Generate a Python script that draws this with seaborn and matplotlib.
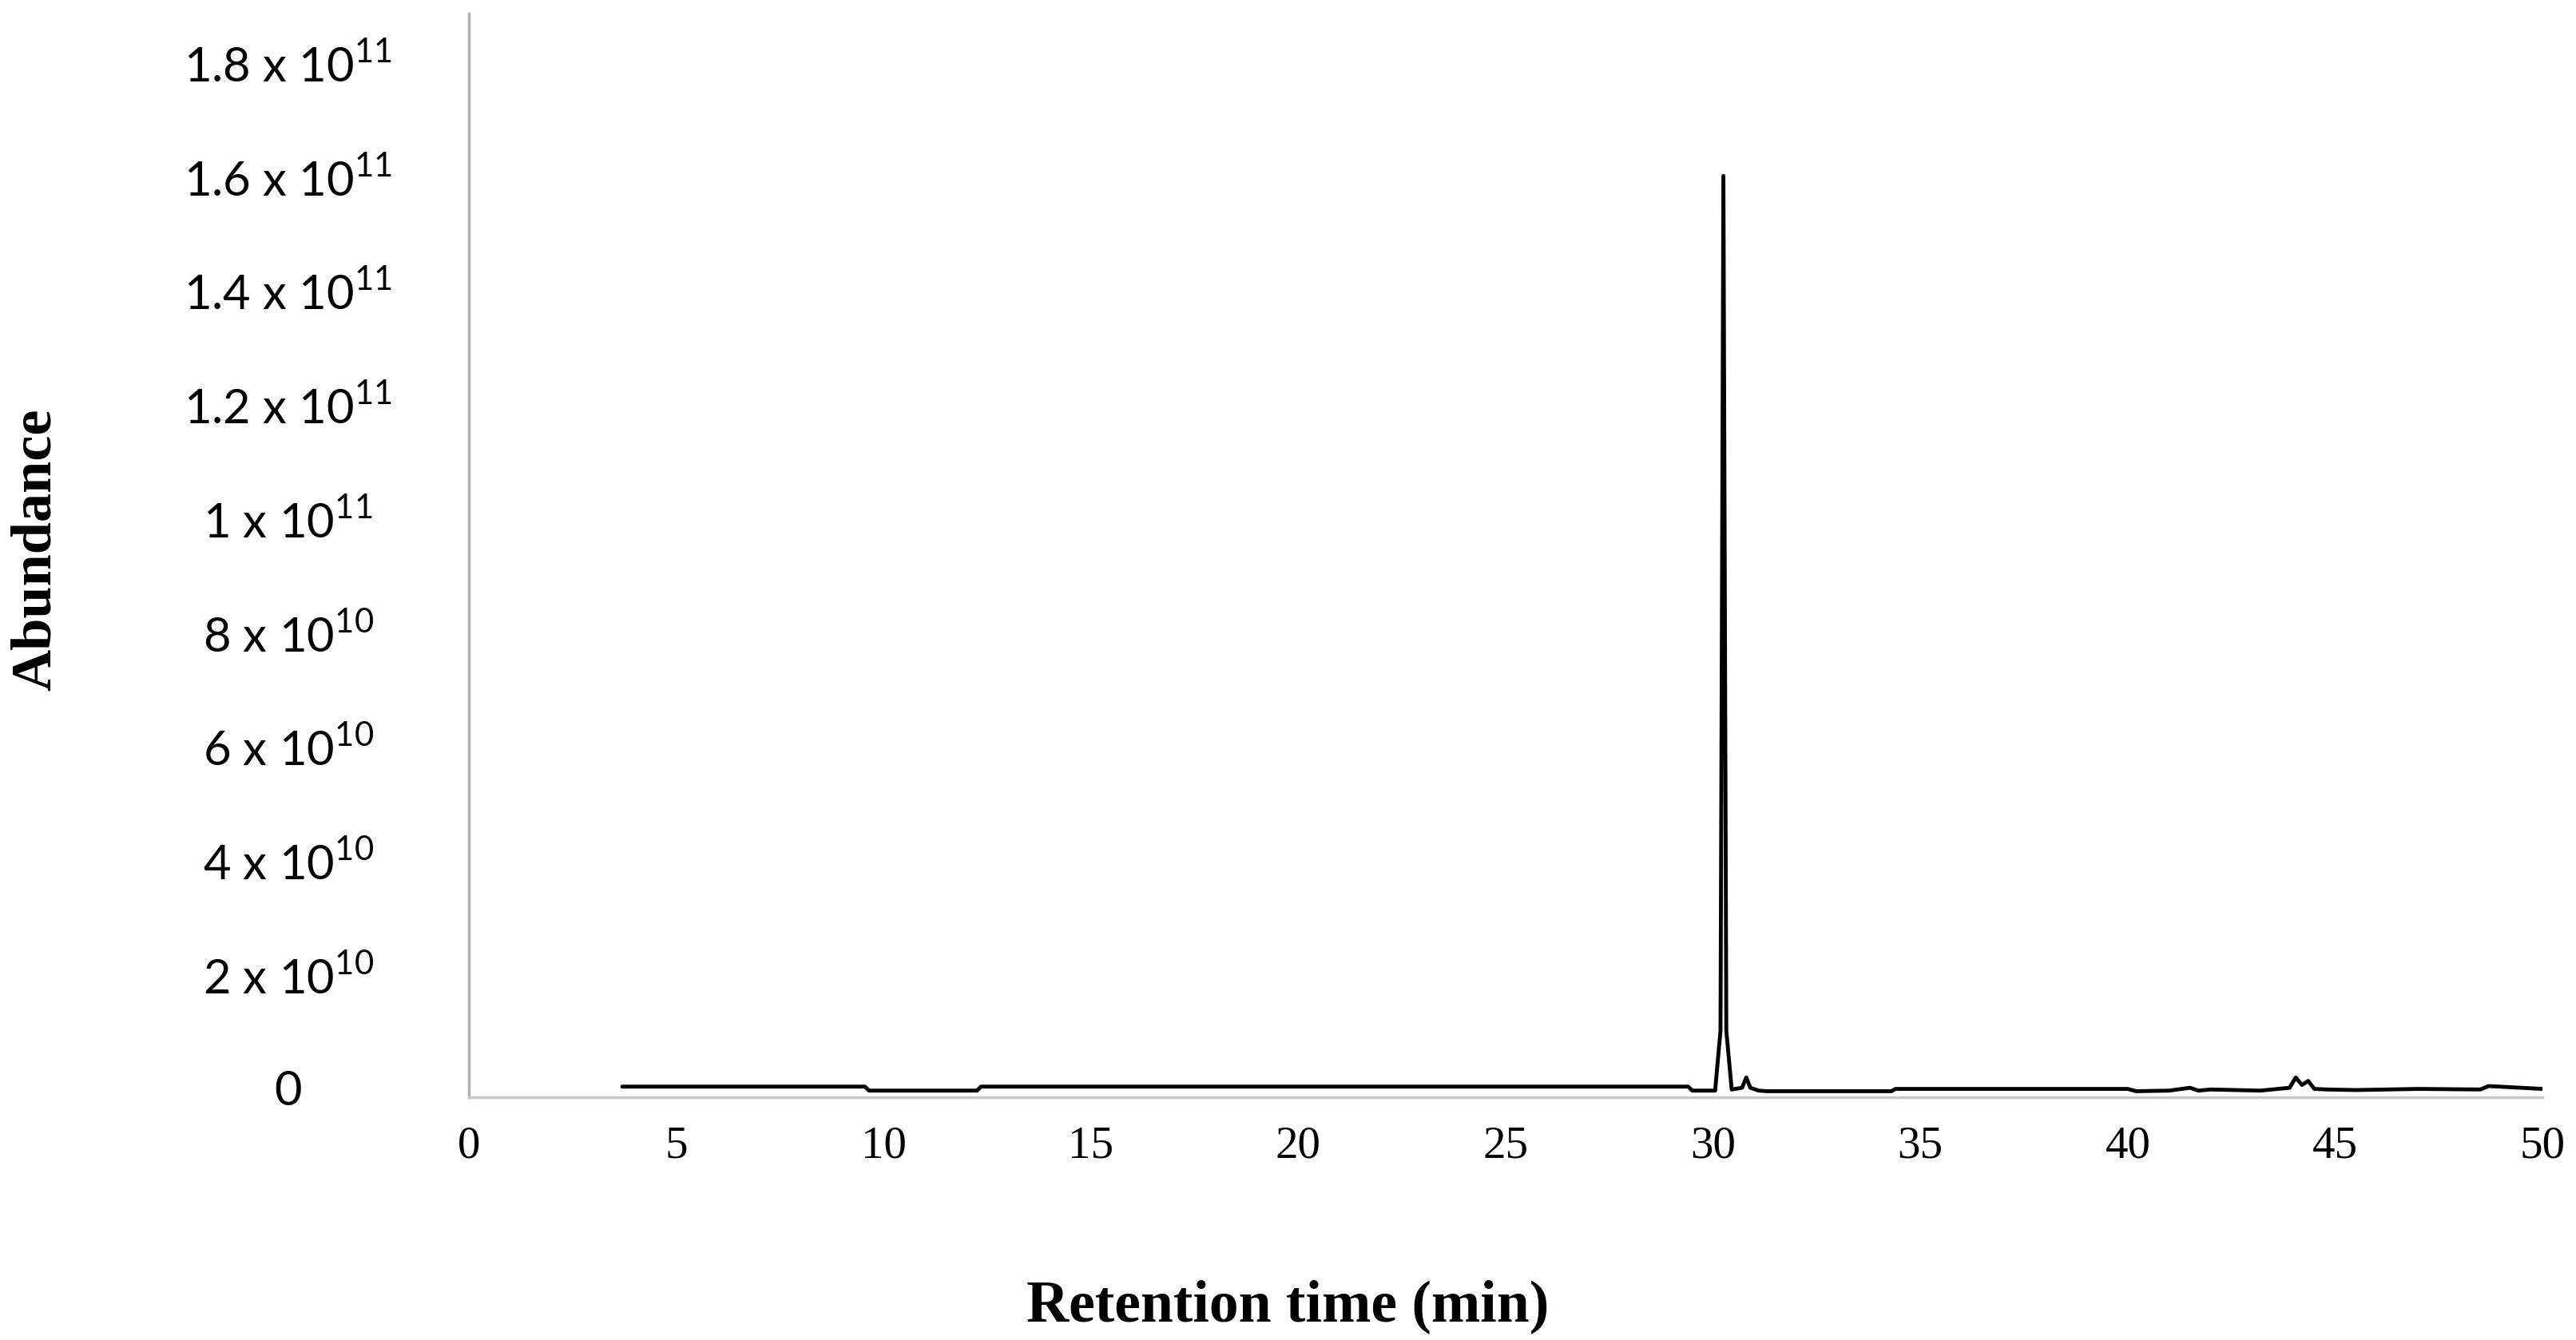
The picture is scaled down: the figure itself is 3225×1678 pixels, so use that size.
#!/usr/bin/env python3
import matplotlib
matplotlib.use("Agg")
import matplotlib.pyplot as plt
import seaborn as sns
import pandas as pd

# chromatogram trace (abundance in units of 1e10)
retention_time = [3.7, 9.55, 9.65, 12.25, 12.35, 29.4, 29.5, 30.05, 30.18, 30.25, 30.32, 30.45,
                  30.7, 30.8, 30.9, 31.1, 31.3, 34.3, 34.4, 40.0, 40.2, 41.0, 41.5, 41.7,
                  42.0, 43.2, 43.9, 44.05, 44.2, 44.35, 44.5, 44.8, 45.5, 47.0, 48.5, 48.7, 50.0]
abundance = [0.02, 0.02, -0.05, -0.05, 0.02, 0.02, -0.05, -0.05, 1.0, 16.0, 1.0, -0.03,
             0.0, 0.18, 0.0, -0.05, -0.06, -0.06, -0.02, -0.02, -0.06, -0.05, 0.0, -0.05,
             -0.03, -0.05, 0.0, 0.18, 0.05, 0.12, -0.02, -0.03, -0.04, -0.02, -0.03, 0.03, -0.02]

x_ticks = [0, 5, 10, 15, 20, 25, 30, 35, 40, 45, 50]
y_ticks = [0, 2, 4, 6, 8, 10, 12, 14, 16, 18]
y_tick_labels = ["0", r"2 x 10$^{\mathregular{10}}$", r"4 x 10$^{\mathregular{10}}$",
                 r"6 x 10$^{\mathregular{10}}$", r"8 x 10$^{\mathregular{10}}$",
                 r"1 x 10$^{\mathregular{11}}$", r"1.2 x 10$^{\mathregular{11}}$",
                 r"1.4 x 10$^{\mathregular{11}}$", r"1.6 x 10$^{\mathregular{11}}$",
                 r"1.8 x 10$^{\mathregular{11}}$"]

data = pd.DataFrame({"time": retention_time, "abundance": abundance})

sns.set_style("white")
plt.rcParams["font.family"] = ["Lato", "DejaVu Sans"]
plt.rcParams["text.color"] = "black"
plt.rcParams["xtick.color"] = "black"
plt.rcParams["ytick.color"] = "black"

fig = plt.figure(figsize=(32.25, 16.78), dpi=100)
ax = fig.add_axes([0.182, 0.181, 0.805, 0.809])

sns.lineplot(data=data, x="time", y="abundance", color="black", linewidth=3.5, ax=ax)

ax.set_xlim(0, 50)
ax.set_ylim(-0.17, 18.85)
ax.set_xticks(x_ticks)
ax.set_xticklabels([str(t) for t in x_ticks], fontfamily="Liberation Serif", fontsize=41,
                   color="black")
ax.set_yticks(y_ticks)
ax.set_yticklabels(y_tick_labels, fontsize=43, color="black")
for lbl in ax.get_yticklabels():
    lbl.set_horizontalalignment("center")
ax.tick_params(axis="y", length=0, pad=163)
ax.tick_params(axis="x", length=0, pad=25)

for side in ["top", "right"]:
    ax.spines[side].set_visible(False)
ax.spines["left"].set_color("#b0b0b0")
ax.spines["left"].set_linewidth(2.5)
ax.spines["bottom"].set_color("#c8c8c8")
ax.spines["bottom"].set_linewidth(2.5)

ax.set_xlabel("")
ax.set_ylabel("")
fig.text(0.5, 0.025, "Retention time (min)", ha="center", va="center", color="black",
         fontfamily="Liberation Serif", fontweight="bold", fontsize=53)
fig.text(0.014, 0.59, "Abundance", ha="center", va="center", rotation=90, color="black",
         fontfamily="Liberation Serif", fontweight="bold", fontsize=52)

fig.savefig("out.png", dpi=100)
